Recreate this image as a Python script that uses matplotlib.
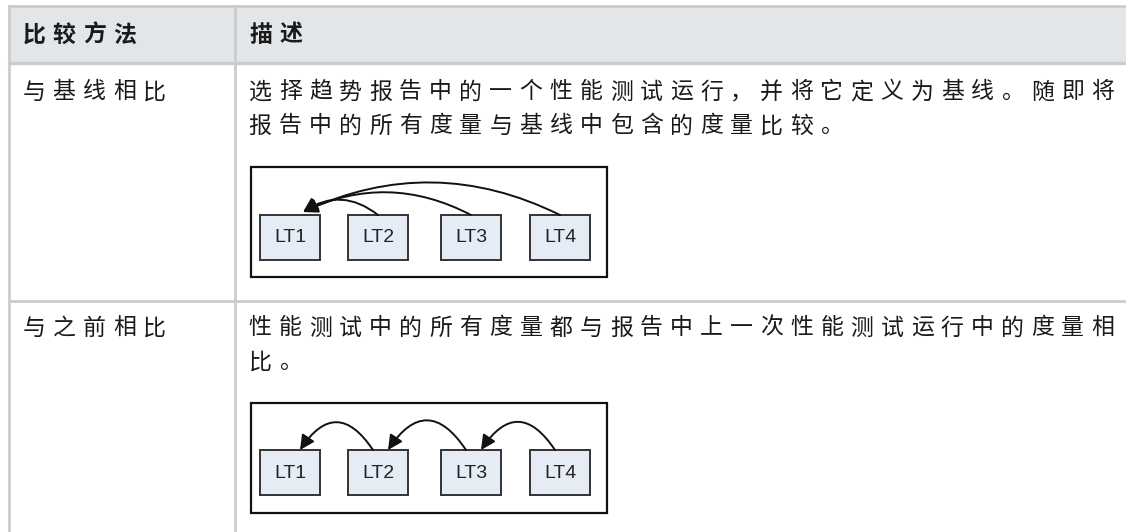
import matplotlib
matplotlib.use('Agg')
import matplotlib.pyplot as plt
from matplotlib.patches import Rectangle, FancyArrowPatch

plt.rcParams['font.family'] = ['Noto Sans CJK SC', 'DejaVu Sans']

# table content
headers = ['比较方法', '描述']
row_names = ['与基线相比', '与之前相比']
row_desc = [
    ['选择趋势报告中的一个性能测试运行，并将它定义为基线。随即将',
     '报告中的所有度量与基线中包含的度量比较。'],
    ['性能测试中的所有度量都与报告中上一次性能测试运行中的度量相',
     '比。'],
]
nodes = ['LT1', 'LT2', 'LT3', 'LT4']
# (from, to, bend) for each diagram
edges_baseline = [(1, 0, 0.36), (2, 0, 0.25), (3, 0, 0.24)]
edges_previous = [(1, 0, 0.75), (2, 1, 0.75), (3, 2, 0.75)]

W, H = 1126, 532
fig = plt.figure(figsize=(W / 100, H / 100), dpi=100)
ax = fig.add_axes([0, 0, 1, 1])
ax.set_xlim(0, W)
ax.set_ylim(H, 0)
ax.axis('off')

grid_c = '#cccccc'
text_c = '#1a1a1a'
left, col_x, top, head_bot, row_div = 9, 235, 6, 63, 301
pitch = 30.1
fs = 16.5


def spaced(x, y, s, **kw):
    for i, ch in enumerate(s):
        ax.text(x + i * pitch + 11, y, ch, ha='center', va='center',
                fontsize=fs, color=text_c, **kw)


# header background and grid
ax.add_patch(Rectangle((left, top), W - left, head_bot - top, fc='#e3e6e8', ec='none'))
ax.plot([left, W], [top, top], color=grid_c, lw=2)
ax.plot([left, W], [head_bot, head_bot], color=grid_c, lw=2.5)
ax.plot([left, W], [row_div, row_div], color=grid_c, lw=2)
ax.plot([left, left], [top, H], color=grid_c, lw=2)
ax.plot([col_x, col_x], [top, H], color=grid_c, lw=2)

spaced(23, 35, headers[0], fontweight='bold')
spaced(250, 35, headers[1], fontweight='bold')

row_y = [92, 328]
for r in range(2):
    spaced(23, row_y[r], row_names[r])
    for j, line in enumerate(row_desc[r]):
        spaced(249, row_y[r] + j * 34, line)

# diagrams
node_x = [260, 348, 441, 530]
node_w = 60
diag = [(167, 215, edges_baseline), (403, 450, edges_previous)]
for box_top, ny, edges in diag:
    ax.add_patch(Rectangle((251, box_top), 356, 110, fc='white', ec='#111111', lw=1.6))
    for k, lab in enumerate(nodes):
        ax.add_patch(Rectangle((node_x[k], ny), node_w, 45, fc='#e6ecf6',
                               ec='#333333', lw=1.4))
        ax.text(node_x[k] + node_w / 2, ny + 23, lab, ha='center', va='center',
                fontsize=14, color='#222222', family=['Liberation Sans', 'DejaVu Sans'])
    for a, b, rad in edges:
        if box_top < 300:
            x0, x1, y1 = node_x[a] + 30, 303, ny - 3
        else:
            x0, x1, y1 = node_x[a] + 25, node_x[b] + 40, ny
        arr = FancyArrowPatch((x0, ny), (x1, y1),
                              connectionstyle='arc3,rad=%s' % rad,
                              arrowstyle='-|>', mutation_scale=22,
                              color='#111111', lw=1.4, shrinkA=0, shrinkB=0)
        ax.add_patch(arr)

fig.savefig('out.png', dpi=100)
